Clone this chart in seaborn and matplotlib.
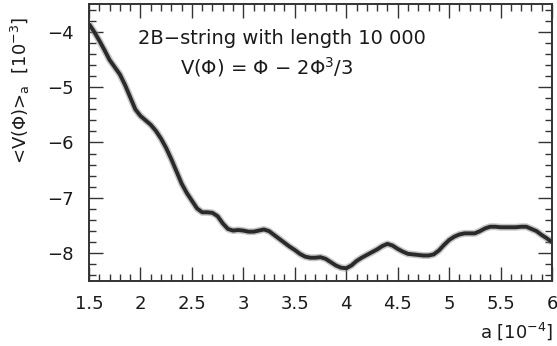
import numpy as np
import pandas as pd
import matplotlib
matplotlib.use("Agg")
import matplotlib.pyplot as plt
from matplotlib.ticker import MultipleLocator
import seaborn as sns

# a in units of 1e-4, <V(phi)>_a in units of 1e-3
a_vals = [1.50, 1.55, 1.60, 1.65, 1.70, 1.75, 1.80, 1.85, 1.90, 1.95,
          2.00, 2.05, 2.10, 2.15, 2.20, 2.25, 2.30, 2.35, 2.40, 2.45,
          2.50, 2.55, 2.60, 2.65, 2.70, 2.75, 2.80, 2.85, 2.90, 2.95,
          3.00, 3.05, 3.10, 3.15, 3.20, 3.25, 3.30, 3.35, 3.40, 3.45,
          3.50, 3.55, 3.60, 3.65, 3.70, 3.75, 3.80, 3.85, 3.90, 3.95,
          4.00, 4.05, 4.10, 4.15, 4.20, 4.25, 4.30, 4.35, 4.40, 4.45,
          4.50, 4.55, 4.60, 4.65, 4.70, 4.75, 4.80, 4.85, 4.90, 4.95,
          5.00, 5.05, 5.10, 5.15, 5.20, 5.25, 5.30, 5.35, 5.40, 5.45,
          5.50, 5.55, 5.60, 5.65, 5.70, 5.75, 5.80, 5.85, 5.90, 5.95,
          6.00]
v_vals = [-3.86, -4.00, -4.16, -4.33, -4.51, -4.64, -4.77, -4.96, -5.18, -5.40,
          -5.52, -5.60, -5.68, -5.79, -5.93, -6.10, -6.30, -6.52, -6.74, -6.91,
          -7.05, -7.19, -7.26, -7.26, -7.27, -7.33, -7.46, -7.56, -7.59, -7.58,
          -7.59, -7.61, -7.61, -7.59, -7.57, -7.60, -7.67, -7.74, -7.81, -7.88,
          -7.94, -8.01, -8.06, -8.08, -8.08, -8.07, -8.10, -8.16, -8.22, -8.26,
          -8.27, -8.22, -8.14, -8.08, -8.03, -7.98, -7.93, -7.87, -7.83, -7.86,
          -7.92, -7.97, -8.01, -8.02, -8.03, -8.04, -8.04, -8.02, -7.95, -7.85,
          -7.76, -7.70, -7.66, -7.64, -7.64, -7.64, -7.60, -7.55, -7.52, -7.52,
          -7.53, -7.53, -7.53, -7.53, -7.52, -7.52, -7.56, -7.60, -7.67, -7.73,
          -7.80]

x_ticks = [1.5, 2, 2.5, 3, 3.5, 4, 4.5, 5, 5.5, 6]
x_tick_labels = ["1.5", "2", "2.5", "3", "3.5", "4", "4.5", "5", "5.5", "6"]
y_ticks = [-8, -7, -6, -5, -4]
y_tick_labels = ["\u22128", "\u22127", "\u22126", "\u22125", "\u22124"]

title_lines = ["2B\u2212string with length 10 000",
               "V(\u03a6) = \u03a6 \u2212 2\u03a6$^3$/3"]

df = pd.DataFrame({"a": a_vals, "V": v_vals})

sns.set_theme(style="ticks")
plt.rcParams["font.family"] = ["DejaVu Sans"]
plt.rcParams["mathtext.default"] = "regular"

fig = plt.figure(figsize=(5.57, 3.46), dpi=100)
ax = fig.add_axes([89 / 557, 1 - 281 / 346, (552 - 89) / 557, (281 - 4) / 346])

# grainy halo under the dense curve
sns.lineplot(data=df, x="a", y="V", ax=ax, color="#8f8f8f", lw=5.0,
             alpha=0.5, sort=True, solid_capstyle="butt")
sns.lineplot(data=df, x="a", y="V", ax=ax, color="#2a2a2a", lw=2.8,
             sort=True, solid_capstyle="butt")

ax.set_xlim(1.5, 6)
ax.set_ylim(-8.5, -3.5)
ax.set_xticks(x_ticks)
ax.set_xticklabels(x_tick_labels)
ax.set_yticks(y_ticks)
ax.set_yticklabels(y_tick_labels)
ax.xaxis.set_minor_locator(MultipleLocator(0.1))
ax.yaxis.set_minor_locator(MultipleLocator(0.2))
ax.tick_params(which="both", direction="in", top=True, right=True,
               color="#333333", width=1.0)
ax.tick_params(which="major", length=10, labelsize=13, labelcolor="#1a1a1a")
ax.tick_params(axis="x", which="major", pad=10)
ax.tick_params(axis="y", which="major", pad=11)
ax.tick_params(which="minor", length=5)
for s in ax.spines.values():
    s.set_linewidth(1.4)
    s.set_color("#333333")
ax.set_xlabel("")
ax.set_ylabel("")

fig.text(20 / 557, 1 - 90 / 346, "<V(\u03a6)>$_a$  [10$^{-3}$]", rotation=90,
         ha="center", va="center", fontsize=13, color="#1a1a1a")
fig.text(553 / 557, 1 - 331 / 346, "a [10$^{-4}$]", ha="right", va="center",
         fontsize=13, color="#1a1a1a")

ax.text(138 / 557, 1 - 39 / 346, title_lines[0], transform=fig.transFigure,
        ha="left", va="center", fontsize=14, color="#1a1a1a")
ax.text(180 / 557, 1 - 67 / 346, title_lines[1], transform=fig.transFigure,
        ha="left", va="center", fontsize=14, color="#1a1a1a")

fig.savefig("out.png", dpi=100)
